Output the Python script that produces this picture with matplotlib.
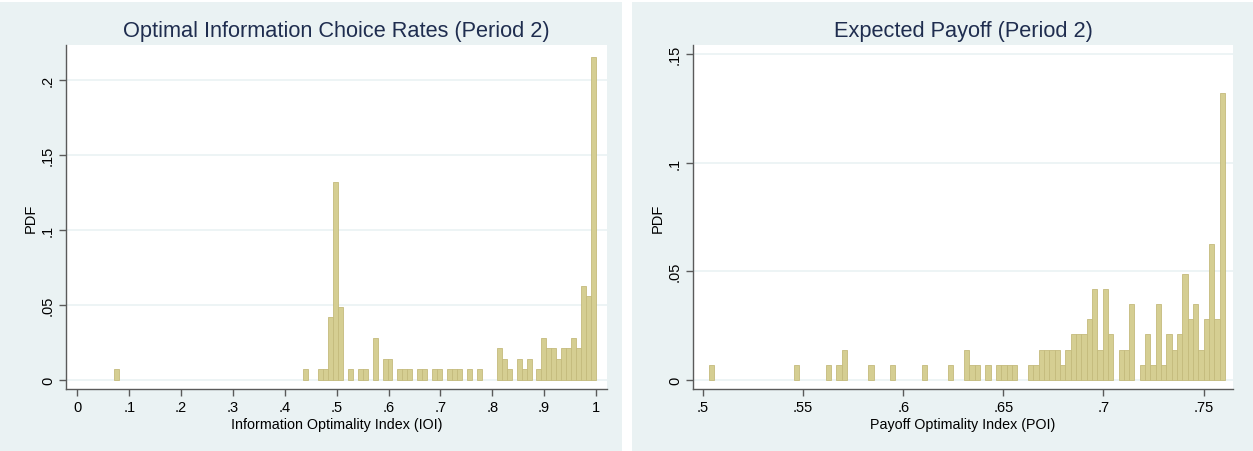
import numpy as np
import matplotlib
matplotlib.use("Agg")
from matplotlib import pyplot as plt
from matplotlib.patches import Rectangle

plt.rcParams['font.family'] = ['Liberation Sans', 'DejaVu Sans']

# --- data: 97-bin histograms, bar height = count / N ---
n_obs = 144
n_bins = 97

ioi_range = (0.0714, 1.0)
ioi_bins = [0, 38, 41, 42, 43, 44, 45, 47, 49, 50, 52, 54, 55, 57, 58, 59, 61, 62, 64, 65,
            67, 68, 69, 71, 73, 77, 78, 79, 81, 82, 83, 85, 86, 87, 88, 89, 90, 91, 92, 93,
            94, 95, 96]
ioi_counts = [1, 1, 1, 1, 6, 19, 7, 1, 1, 1, 4, 2, 2, 1, 1, 1, 1, 1, 1, 1,
              1, 1, 1, 1, 1, 3, 2, 1, 2, 1, 2, 1, 4, 3, 3, 2, 3, 3, 4, 3,
              9, 8, 31]

poi_range = (0.5028, 0.7607)
poi_bins = [0, 16, 22, 24, 25, 30, 34, 40, 45, 48, 49, 50, 52, 54, 55, 56, 57, 60, 61, 62,
            63, 64, 65, 66, 67, 68, 69, 70, 71, 72, 73, 74, 75, 77, 78, 79, 81, 82, 83, 84,
            85, 86, 87, 88, 89, 90, 91, 92, 93, 94, 95, 96]
poi_counts = [1, 1, 1, 1, 2, 1, 1, 1, 1, 2, 1, 1, 1, 1, 1, 1, 1, 1, 1, 2,
              2, 2, 2, 1, 2, 3, 3, 3, 4, 6, 2, 6, 3, 2, 2, 5, 1, 3, 1, 5,
              1, 3, 2, 3, 7, 4, 5, 2, 4, 9, 4, 19]

ioi_xticks = [0, .1, .2, .3, .4, .5, .6, .7, .8, .9, 1]
ioi_xlabels = ['0', '.1', '.2', '.3', '.4', '.5', '.6', '.7', '.8', '.9', '1']
ioi_yticks = [0, .05, .1, .15, .2]
ioi_ylabels = ['0', '.05', '.1', '.15', '.2']

poi_xticks = [.5, .55, .6, .65, .7, .75]
poi_xlabels = ['.5', '.55', '.6', '.65', '.7', '.75']
poi_yticks = [0, .05, .1, .15]
poi_ylabels = ['0', '.05', '.1', '.15']

BG = '#EAF2F3'
BAR = '#D5CE92'
BAR_EDGE = '#C4BA7C'
AXIS = '#5A5A5A'
TITLE = '#1F2D4F'

W, H = 1253, 452
fig = plt.figure(figsize=(W / 100, H / 100), dpi=100, facecolor='white')


def px_axes(x0, y0, x1, y1):
    # pixel box (from top-left) -> figure axes
    return fig.add_axes([x0 / W, 1 - y1 / H, (x1 - x0) / W, (y1 - y0) / H])


def draw_panel(bg_x0, bg_x1, box, title, xlabel, rng, bins, counts,
               xlim, ylim, xticks, xlabels, yticks, ylabels):
    fig.patches.append(Rectangle((bg_x0 / W, 0), (bg_x1 - bg_x0) / W, 1 - 3 / H,
                                 transform=fig.transFigure, facecolor=BG,
                                 edgecolor='none', zorder=-5))
    ax = px_axes(*box)
    ax.set_facecolor('white')
    w = (rng[1] - rng[0]) / n_bins
    left = rng[0] + np.array(bins) * w
    ax.bar(left, np.array(counts) / n_obs, width=w, align='edge',
           color=BAR, edgecolor=BAR_EDGE, linewidth=0.6, zorder=3)
    ax.set_xlim(*xlim)
    ax.set_ylim(*ylim)
    for yv in yticks:
        ax.axhline(yv, color=BG, linewidth=1.2, zorder=1)
    ax.spines[['top', 'right']].set_visible(False)
    for s in ['left', 'bottom']:
        ax.spines[s].set_color(AXIS)
        ax.spines[s].set_linewidth(1.0)
    ax.set_xticks(xticks)
    ax.set_xticklabels(xlabels)
    ax.set_yticks(yticks)
    ax.set_yticklabels(ylabels, rotation=90, va='center')
    ax.tick_params(axis='both', direction='out', length=5, width=1,
                   color=AXIS, labelsize=10.5, labelcolor='black', pad=3)
    ax.set_xlabel(xlabel, fontsize=10.3, labelpad=2)
    ax.set_ylabel('PDF', fontsize=10.5, labelpad=2)
    cx = (box[0] + box[2]) / 2
    fig.text(cx / W, 1 - 32 / H, title, ha='center', va='center',
             fontsize=15.7, color=TITLE)
    return ax


draw_panel(0, 622, (66, 46, 607, 390),
           'Optimal Information Choice Rates (Period 2)',
           'Information Optimality Index (IOI)',
           ioi_range, ioi_bins, ioi_counts,
           (-0.0219, 1.0211), (-0.0062, 0.2232),
           ioi_xticks, ioi_xlabels, ioi_yticks, ioi_ylabels)

draw_panel(632, 1253, (693, 46, 1233, 390),
           'Expected Payoff (Period 2)',
           'Payoff Optimality Index (POI)',
           poi_range, poi_bins, poi_counts,
           (0.495, 0.7647), (-0.0043, 0.1542),
           poi_xticks, poi_xlabels, poi_yticks, poi_ylabels)

fig.savefig('out.png', dpi=100, facecolor='white')
